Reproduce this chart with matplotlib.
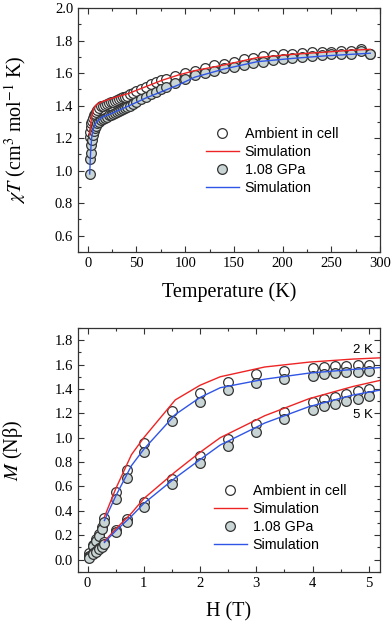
import matplotlib

matplotlib.use("Agg")
import matplotlib.pyplot as plt
from matplotlib.ticker import MultipleLocator, FormatStrFormatter

# --- chi*T vs temperature ---------------------------------------------------
temp_k = [2, 2.5, 3, 3.5, 4, 5, 6, 7, 8, 10, 12, 14, 16, 18, 20, 22, 24, 26, 28, 30,
          32, 34, 36, 38, 40, 43, 46, 50, 55, 60, 65, 70, 75, 80, 90, 100, 110, 120,
          130, 140, 150, 160, 170, 180, 190, 200, 210, 220, 230, 240, 250, 260, 270,
          280, 290]
chit_ambient = [1.21, 1.24, 1.27, 1.29, 1.305, 1.325, 1.34, 1.35, 1.36, 1.375, 1.385,
                1.395, 1.40, 1.405, 1.41, 1.415, 1.42, 1.425, 1.43, 1.435, 1.44, 1.445,
                1.45, 1.455, 1.46, 1.47, 1.48, 1.49, 1.50, 1.515, 1.53, 1.545, 1.555,
                1.565, 1.585, 1.60, 1.615, 1.63, 1.65, 1.655, 1.67, 1.685, 1.695, 1.705,
                1.71, 1.715, 1.72, 1.725, 1.728, 1.73, 1.73, 1.735, 1.735, 1.745, 1.72]
chit_pressure = [0.98, 1.07, 1.11, 1.16, 1.19, 1.22, 1.245, 1.26, 1.275, 1.29, 1.30,
                 1.31, 1.32, 1.325, 1.33, 1.34, 1.345, 1.35, 1.355, 1.36, 1.365, 1.37,
                 1.38, 1.385, 1.39, 1.40, 1.41, 1.425, 1.44, 1.455, 1.47, 1.485, 1.50,
                 1.515, 1.54, 1.565, 1.59, 1.60, 1.615, 1.63, 1.64, 1.65, 1.66, 1.67,
                 1.68, 1.685, 1.695, 1.70, 1.705, 1.71, 1.715, 1.72, 1.72, 1.735, 1.72]

sim_temp_k = [2, 3, 4, 5, 6, 8, 10, 15, 25, 42, 59, 76, 93, 110, 140, 174, 210, 242,
              270, 290]
sim_chit_ambient = [1.22, 1.28, 1.33, 1.36, 1.38, 1.40, 1.41, 1.425, 1.445, 1.475, 1.515,
                    1.555, 1.588, 1.615, 1.65, 1.695, 1.715, 1.728, 1.74, 1.746]
sim_chit_pressure = [0.98, 1.12, 1.20, 1.24, 1.26, 1.29, 1.305, 1.33, 1.353, 1.398, 1.445,
                     1.486, 1.527, 1.575, 1.625, 1.67, 1.69, 1.705, 1.715, 1.722]

# --- magnetisation vs field -------------------------------------------------
field_t = [0.03, 0.1, 0.15, 0.2, 0.25, 0.3, 0.5, 0.7, 1.0, 1.5, 2.0, 2.5, 3.0, 3.5,
           4.0, 4.2, 4.4, 4.6, 4.8, 5.0]
m_2k_ambient = [0.05, 0.12, 0.165, 0.21, 0.27, 0.34, 0.55, 0.735, 0.96, 1.22, 1.37,
                1.46, 1.52, 1.55, 1.57, 1.58, 1.585, 1.59, 1.595, 1.60]
m_2k_pressure = [0.03, 0.11, 0.15, 0.19, 0.25, 0.31, 0.50, 0.67, 0.88, 1.14, 1.29,
                 1.39, 1.45, 1.48, 1.51, 1.52, 1.53, 1.54, 1.54, 1.545]
m_5k_ambient = [0.02, 0.05, 0.07, 0.095, 0.115, 0.14, 0.24, 0.335, 0.47, 0.66, 0.85,
                0.99, 1.11, 1.21, 1.29, 1.32, 1.335, 1.36, 1.38, 1.40]
m_5k_pressure = [0.015, 0.045, 0.065, 0.085, 0.105, 0.13, 0.225, 0.31, 0.43, 0.62, 0.79,
                 0.93, 1.05, 1.15, 1.23, 1.26, 1.28, 1.30, 1.32, 1.34]

sim_field_t = [0.3, 0.5, 0.78, 1.0, 1.56, 2.0, 2.36, 3.15, 3.94, 4.72, 5.2]
sim_2k_ambient = [0.35, 0.58, 0.86, 1.0, 1.31, 1.43, 1.50, 1.58, 1.62, 1.645, 1.655]
sim_2k_pressure = [0.32, 0.52, 0.77, 0.905, 1.19, 1.33, 1.41, 1.48, 1.53, 1.56, 1.575]
sim_5k_ambient = [0.15, 0.25, 0.38, 0.50, 0.72, 0.88, 1.00, 1.18, 1.32, 1.42, 1.47]
sim_5k_pressure = [0.14, 0.235, 0.355, 0.46, 0.67, 0.82, 0.94, 1.12, 1.255, 1.35, 1.39]

RED = "#ee2424"
BLUE = "#2f55e6"
FILL = "#c9d4d4"
EDGE = "#333333"

plt.rcParams["font.family"] = "Liberation Serif"
plt.rcParams["mathtext.fontset"] = "stix"
plt.rcParams["axes.edgecolor"] = EDGE
plt.rcParams["axes.linewidth"] = 0.9


def style_axes(ax):
    ax.tick_params(which="both", direction="in", top=True, right=True,
                   labelsize=10.5, color=EDGE, width=0.8)
    ax.tick_params(which="major", length=4)
    ax.tick_params(which="minor", length=2.2)


def add_legend(ax, anchor):
    handles = [
        plt.Line2D([], [], ls="none", marker="o", ms=7, mfc="white", mec=EDGE, mew=0.9),
        plt.Line2D([], [], color=RED, lw=1.0),
        plt.Line2D([], [], ls="none", marker="o", ms=7, mfc=FILL, mec=EDGE, mew=0.9),
        plt.Line2D([], [], color=BLUE, lw=1.0),
    ]
    labels = ["Ambient in cell", "Simulation", "1.08 GPa", "Simulation"]
    ax.legend(handles, labels, loc="upper left", bbox_to_anchor=anchor,
              bbox_transform=ax.figure.transFigure, frameon=False,
              prop={"family": "Liberation Sans", "size": 10.3}, handlelength=2.3,
              handletextpad=0.4, labelspacing=0.28, borderpad=0, borderaxespad=0)


fig = plt.figure(figsize=(3.92, 6.25), dpi=100)
ax1 = fig.add_axes([78 / 392, 1 - 252 / 625, 302 / 392, 244 / 625])
ax2 = fig.add_axes([78 / 392, 1 - 571.7 / 625, 302 / 392, 243.7 / 625])

marker_kw = dict(ls="none", marker="o", ms=7, mec=EDGE, mew=0.9)
ax1.plot(temp_k, chit_ambient, mfc="white", **marker_kw)
ax1.plot(temp_k, chit_pressure, mfc=FILL, **marker_kw)
ax1.plot(sim_temp_k, sim_chit_ambient, color=RED, lw=1.0)
ax1.plot(sim_temp_k, sim_chit_pressure, color=BLUE, lw=1.0)
ax1.set_xlim(-10, 300)
ax1.set_ylim(0.5, 2.0)
ax1.xaxis.set_major_locator(MultipleLocator(50))
ax1.xaxis.set_minor_locator(MultipleLocator(25))
ax1.yaxis.set_major_locator(MultipleLocator(0.2))
ax1.yaxis.set_minor_locator(MultipleLocator(0.1))
ax1.yaxis.set_major_formatter(FormatStrFormatter("%.1f"))
ax1.set_yticks([0.6, 0.8, 1.0, 1.2, 1.4, 1.6, 1.8, 2.0])
style_axes(ax1)
ax1.set_xlabel("Temperature (K)", fontsize=14.5)
ax1.set_ylabel(r"$\chi T$ (cm$^{3}$ mol$^{-1}$ K)", fontsize=14.5)
ax1.xaxis.set_label_coords(0.5, -0.125)
ax1.yaxis.set_label_coords(-0.165, 0.5)
add_legend(ax1, (206 / 392, 1 - 127 / 625))

for m_amb, m_pre in [(m_2k_ambient, m_2k_pressure), (m_5k_ambient, m_5k_pressure)]:
    ax2.plot(field_t, m_amb, mfc="white", **marker_kw)
    ax2.plot(field_t, m_pre, mfc=FILL, **marker_kw)
for s_amb, s_pre in [(sim_2k_ambient, sim_2k_pressure), (sim_5k_ambient, sim_5k_pressure)]:
    ax2.plot(sim_field_t, s_amb, color=RED, lw=1.0)
    ax2.plot(sim_field_t, s_pre, color=BLUE, lw=1.0)
ax2.set_xlim(-0.17, 5.2)
ax2.set_ylim(-0.1, 1.9)
ax2.xaxis.set_major_locator(MultipleLocator(1))
ax2.xaxis.set_minor_locator(MultipleLocator(0.5))
ax2.yaxis.set_major_locator(MultipleLocator(0.2))
ax2.yaxis.set_minor_locator(MultipleLocator(0.1))
ax2.yaxis.set_major_formatter(FormatStrFormatter("%.1f"))
style_axes(ax2)
ax2.set_xlabel("H (T)", fontsize=14.5)
ax2.set_ylabel(r"$M$ (Nβ)", fontsize=14.5)
ax2.xaxis.set_label_coords(0.5, -0.125)
ax2.yaxis.set_label_coords(-0.175, 0.5)
ax2.text(5.07, 1.72, "2 K", ha="right", va="center", family="Liberation Sans", fontsize=9.5)
ax2.text(5.07, 1.185, "5 K", ha="right", va="center", family="Liberation Sans", fontsize=9.5)
add_legend(ax2, (214 / 392, 1 - 484 / 625))

fig.savefig("out.png", dpi=100)
